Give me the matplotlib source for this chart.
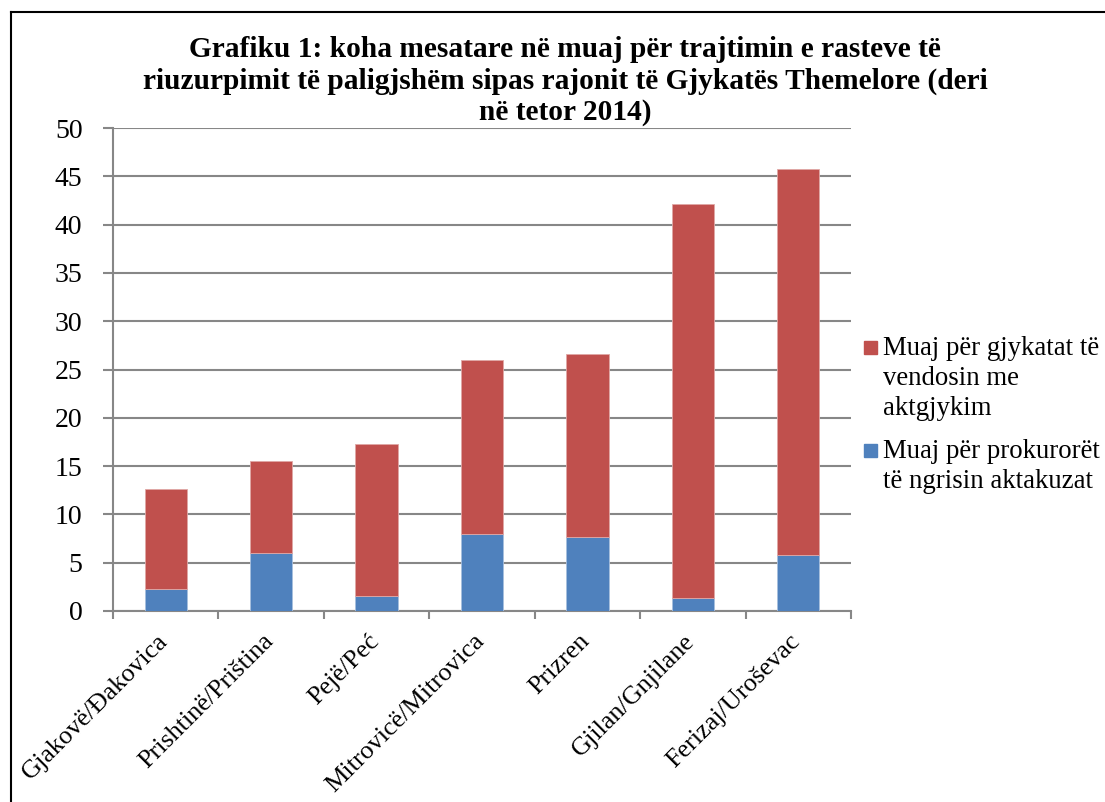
import numpy as np
import matplotlib.pyplot as plt
from matplotlib.lines import Line2D
from matplotlib.patches import Rectangle
import matplotlib.transforms as mtransforms

regions = ["Gjakovë/Đakovica", "Prishtinë/Priština", "Pejë/Peć", "Mitrovicë/Mitrovica",
           "Prizren", "Gjilan/Gnjilane", "Ferizaj/Uroševac"]
prosecutors = [2.3, 6.0, 1.55, 8.0, 7.7, 1.3, 5.8]
courts = [10.3, 9.5, 15.75, 18.0, 18.9, 40.8, 40.0]

title = ("Grafiku 1: koha mesatare në muaj për trajtimin e rasteve të\n"
         "riuzurpimit të paligjshëm sipas rajonit të Gjykatës Themelore (deri\n"
         "në tetor 2014)")
label_courts = ["Muaj për gjykatat të", "vendosin me", "aktgjykim"]
label_pros = ["Muaj për prokurorët", "të ngrisin aktakuzat"]

plt.rcParams['font.family'] = ['Liberation Serif', 'DejaVu Serif']

red = "#C0504D"
blue = "#4F81BD"
grid_c = "#878787"

W, H = 1105, 802
fig = plt.figure(figsize=(W / 100, H / 100), dpi=100)
ax = fig.add_axes([113 / W, 1 - 611 / H, (851 - 113) / W, (611 - 128) / H])

x = np.arange(len(regions))
ax.bar(x, prosecutors, width=0.4, color=blue, edgecolor="#A7BFDE", linewidth=0.6, zorder=3)
ax.bar(x, courts, width=0.4, bottom=prosecutors, color=red, edgecolor="#E0A8A6",
       linewidth=0.6, zorder=3)

ax.set_xlim(-0.5, len(regions) - 0.5)
ax.set_ylim(0, 50)
ax.set_yticks(np.arange(0, 51, 5))
ax.yaxis.grid(True, color=grid_c, linewidth=1.5, zorder=0)
ax.tick_params(axis='y', length=7, width=1.5, color=grid_c, labelsize=20, pad=15)

ax.set_xticks(x)
ax.set_xticklabels(regions, rotation=45, ha='right', rotation_mode='anchor', fontsize=18.8)
ax.set_xticks(np.arange(-0.5, len(regions), 1), minor=True)
ax.tick_params(axis='x', which='major', length=0, pad=16)
ax.tick_params(axis='x', which='minor', length=6, width=1.5, color=grid_c)
shift = mtransforms.ScaledTranslation(-9 / 100, 3 / 100, fig.dpi_scale_trans)
for lab in ax.get_xticklabels():
    lab.set_transform(lab.get_transform() + shift)

for s in ['top', 'right']:
    ax.spines[s].set_visible(False)
for s in ['left', 'bottom']:
    ax.spines[s].set_color(grid_c)
    ax.spines[s].set_linewidth(1.5)

fig.text(565 / W, 1 - 36 / H, title, ha='center', va='top', fontsize=21.2,
         fontweight='bold', linespacing=1.2)

# legend drawn by hand so the squares sit on the first text line
for color, lines, sq_top, base in [(red, label_courts, 341, 355), (blue, label_pros, 444, 458)]:
    fig.add_artist(Rectangle((864 / W, 1 - (sq_top + 13) / H), 13 / W, 13 / H,
                             color=color, transform=fig.transFigure))
    for i, line in enumerate(lines):
        fig.text(883 / W, 1 - (base + 30 * i) / H, line, ha='left', va='baseline',
                 fontsize=19.3)

fig.add_artist(Line2D([10.5 / W, 1], [1 - 12 / H, 1 - 12 / H], color='black', linewidth=1.5))
fig.add_artist(Line2D([10.5 / W, 10.5 / W], [0, 1 - 12 / H], color='black', linewidth=1.5))

fig.savefig("out.png", dpi=100)
